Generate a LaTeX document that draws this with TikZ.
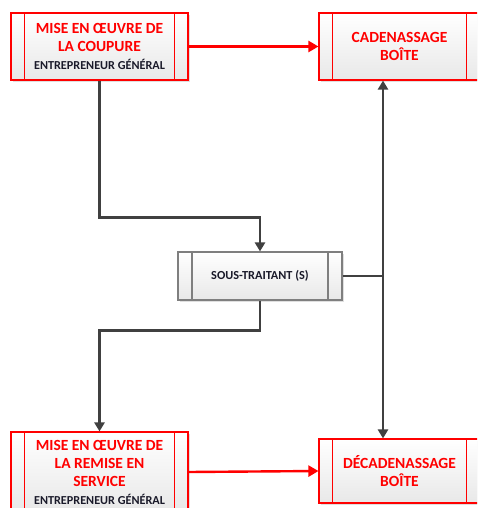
\documentclass[tikz,border=0pt]{standalone}
\usepackage{fontspec}
\setmainfont{Carlito}
\usetikzlibrary{arrows.meta,shadows,calc}
\definecolor{redc}{HTML}{FF0000}
\definecolor{conn}{HTML}{404040}
\definecolor{midb}{HTML}{7F7F7F}
\definecolor{blk}{HTML}{1A1A2A}
\tikzset{
  procbase/.style={rectangle, inner sep=0pt, align=center, top color=white, bottom color=black!9,
    line width=1.1pt, drop shadow={opacity=0.25, shadow xshift=2pt, shadow yshift=-2pt}},
  redproc/.style={procbase, draw=redc, text=redc, font=\bfseries\fontsize{15.5}{18}\selectfont,
    path picture={
      \draw[redc, line width=1.1pt] ([xshift=13.5pt]path picture bounding box.north west) -- ([xshift=13.5pt]path picture bounding box.south west);
      \draw[redc, line width=1.1pt] ([xshift=-13.5pt]path picture bounding box.north east) -- ([xshift=-13.5pt]path picture bounding box.south east);}},
  grayproc/.style={procbase, draw=midb, text=blk, font=\bfseries\fontsize{12.3}{14}\selectfont,
    path picture={
      \draw[midb, line width=1.1pt] ([xshift=14pt]path picture bounding box.north west) -- ([xshift=14pt]path picture bounding box.south west);
      \draw[midb, line width=1.1pt] ([xshift=-14pt]path picture bounding box.north east) -- ([xshift=-14pt]path picture bounding box.south east);}},
  darkconn/.style={draw=conn, line width=2.4pt, -{Triangle[length=9pt,width=10pt]}},
  redconn/.style={draw=redc, line width=2.4pt, -{Triangle[length=10pt,width=11pt]}}
}
\newcommand{\subline}[1]{{\color{blk}\fontsize{12.2}{18}\selectfont #1}}
\begin{document}
\begin{tikzpicture}[x=1pt,y=-1pt]
\clip (0,0) rectangle (477,508);
\fill[white] (0,0) rectangle (477,508);

\node[redproc, minimum width=177pt, minimum height=67pt] (tl) at (99.5,46.5)
  {MISE EN ŒUVRE DE\\LA COUPURE\\\subline{ENTREPRENEUR GÉNÉRAL}};
\node[redproc, minimum width=161pt, minimum height=67pt] (tr) at (399.5,46.5)
  {CADENASSAGE\\BOÎTE};
\node[grayproc, minimum width=164pt, minimum height=48pt] (mid) at (260,276)
  {SOUS-TRAITANT (S)};
\node[redproc, minimum width=177pt, minimum height=80pt] (bl) at (99.5,472)
  {MISE EN ŒUVRE DE\\LA REMISE EN\\SERVICE\\\subline{ENTREPRENEUR GÉNÉRAL}};
\node[redproc, minimum width=161pt, minimum height=64pt] (br) at (399.5,471)
  {DÉCADENASSAGE\\BOÎTE};

\coordinate (v) at (383,276);

\draw[redconn] (tl.east) -- (tr.west);
\draw[redconn] (bl.east) -- (br.west);
\draw[darkconn] (tl.south) -- ++(0,137) -| (mid.north);
\draw[darkconn] (mid.south) -- ++(0,30) -| (bl.north);
\draw[draw=conn, line width=2.4pt] (mid.east) -- (v);
\draw[draw=conn, line width=2.4pt, {Triangle[length=9pt,width=10pt]}-{Triangle[length=9pt,width=10pt]}] (v |- tr.south) -- (v |- br.north);
\end{tikzpicture}
\end{document}
